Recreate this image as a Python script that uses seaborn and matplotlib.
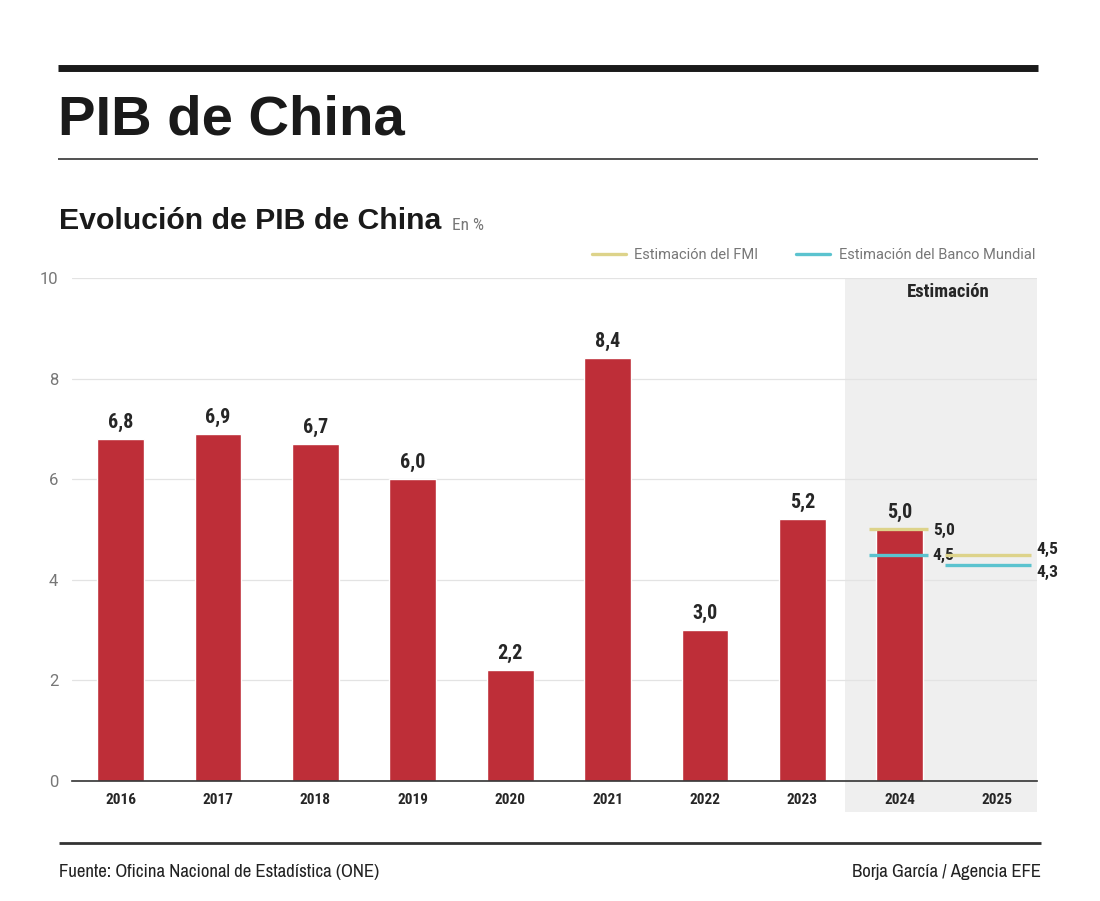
import numpy as np
import pandas as pd
import seaborn as sns
import matplotlib.pyplot as plt
from matplotlib.lines import Line2D
from matplotlib.patches import Rectangle

# data
years = ["2016", "2017", "2018", "2019", "2020", "2021", "2022", "2023", "2024", "2025"]
pib = [6.8, 6.9, 6.7, 6.0, 2.2, 8.4, 3.0, 5.2, 5.0, np.nan]
est_years = ["2024", "2025"]
fmi = [5.0, 4.5]
banco_mundial = [4.5, 4.3]

RED = "#BE2E38"
FMI_COLOR = "#DDD38A"
BM_COLOR = "#5BC3CF"
COND = ["Roboto Condensed", "DejaVu Sans"]
NARROW = ["Archivo Narrow", "Roboto Condensed", "DejaVu Sans"]
HELV = ["Liberation Sans", "DejaVu Sans"]

sns.set_style("white")
plt.rcParams['font.family'] = ["Roboto", "DejaVu Sans"]

df = pd.DataFrame({"year": years, "pib": pib})

fig = plt.figure(figsize=(11, 9.01), dpi=100)
ax = fig.add_axes([0.0655, 0.1332, 0.8772, 0.5583])

XMAX = 9.41
# shaded estimation zone (extends below the axis)
ax.add_patch(Rectangle((7.44, -0.62), XMAX - 7.44, 10.62, facecolor="#EFEFEF",
                       edgecolor="none", clip_on=False, zorder=0))

sns.barplot(data=df, x="year", y="pib", order=years, color=RED, width=0.48,
            saturation=1, ax=ax, zorder=2)

ax.set_xlim(-0.5, XMAX)
ax.set_ylim(0, 10)
ax.set_yticks([0, 2, 4, 6, 8, 10])
ax.yaxis.grid(True, color="#E3E3E3", linewidth=0.9)
ax.set_axisbelow(True)
for s in ["top", "right", "left"]:
    ax.spines[s].set_visible(False)
ax.spines["bottom"].set_color("#333333")
ax.spines["bottom"].set_linewidth(1.2)
ax.spines["bottom"].set_zorder(3)
ax.tick_params(axis="y", length=0, labelsize=12, labelcolor="#777777", pad=10)
ax.tick_params(axis="x", length=0, labelsize=11, pad=9)
for lab in ax.get_xticklabels():
    lab.set_fontweight("bold")
    lab.set_family(COND)
ax.set_xlabel("")
ax.set_ylabel("")

# value labels
for i, v in enumerate(pib):
    if not np.isnan(v):
        ax.text(i, v + 0.14, f"{v:.1f}".replace(".", ","), ha="center",
                va="bottom", fontsize=14.5, fontweight="bold", family=COND, zorder=4)

# estimation lines
idx = {y: i for i, y in enumerate(years)}
starts = [-0.31, -0.53]
ends = [0.29, 0.35]
for y, f, b, s, e in zip(est_years, fmi, banco_mundial, starts, ends):
    x = idx[y]
    ax.hlines(f, x + s, x + e, color=FMI_COLOR, linewidth=2.4, zorder=3, clip_on=False)
    ax.hlines(b, x + s, x + e, color=BM_COLOR, linewidth=2.4, zorder=3, clip_on=False)
    dy = 0.13 if y == "2025" else 0.0
    ax.text(x + e + 0.05, f + dy - 0.02, f"{f:.1f}".replace(".", ","), va="center",
            fontsize=12.5, fontweight="bold", family=COND, clip_on=False)
    ax.text(x + e + 0.05, b - dy - 0.02, f"{b:.1f}".replace(".", ","), va="center",
            fontsize=12.5, fontweight="bold", family=COND, clip_on=False)

ax.text(8.5, 9.72, "Estimación", ha="center", va="center",
        fontsize=13.5, fontweight="bold", family=COND)

# legend
handles = [Line2D([0], [0], color=FMI_COLOR, lw=2.4),
           Line2D([0], [0], color=BM_COLOR, lw=2.4)]
leg = fig.legend(handles, ["Estimación del FMI", "Estimación del Banco Mundial"],
                 loc="center right", bbox_to_anchor=(0.941, 0.717), ncol=2,
                 frameon=False, fontsize=10.5, handlelength=2.3, columnspacing=2.6,
                 handletextpad=0.6, borderpad=0, borderaxespad=0)
for t in leg.get_texts():
    t.set_color("#777777")

# header
fig.add_artist(Line2D([0.053, 0.944], [0.925, 0.925], color="#1A1A1A", lw=5,
                      solid_capstyle="butt"))
fig.text(0.053, 0.866, "PIB de China", fontsize=40.5, fontweight="bold",
         color="#1A1A1A", va="center", family=HELV)
fig.add_artist(Line2D([0.053, 0.944], [0.823, 0.823], color="#333333", lw=1.2,
                      solid_capstyle="butt"))
fig.text(0.054, 0.755, "Evolución de PIB de China", fontsize=21.8, fontweight="bold",
         color="#1A1A1A", va="center", family=HELV)
fig.text(0.411, 0.750, "En %", fontsize=12.5, color="#777777", va="center",
         family=COND)

# footer
fig.add_artist(Line2D([0.054, 0.946], [0.0644, 0.0644], color="#333333", lw=2,
                      solid_capstyle="butt"))
fig.text(0.054, 0.032, "Fuente: Oficina Nacional de Estadística (ONE)",
         fontsize=13.5, color="#222222", va="center", family=NARROW)
fig.text(0.946, 0.032, "Borja García / Agencia EFE", fontsize=13.5,
         color="#222222", va="center", ha="right", family=NARROW)

fig.savefig("out.png", dpi=100)
